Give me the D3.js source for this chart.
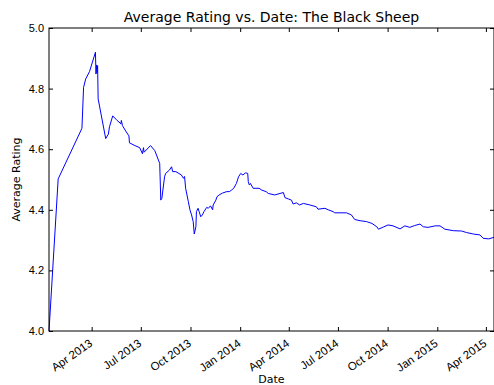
<!DOCTYPE html>
<html>
<head>
<meta charset="utf-8">
<script src="https://cdn.jsdelivr.net/npm/d3@7"></script>
<style>
  html, body { margin: 0; padding: 0; background: #fff; }
  svg { display: block; font-family: "DejaVu Sans", sans-serif; }
</style>
</head>
<body>
<svg id="chart" width="494" height="385"></svg>
<script>
const dates = [
  "2013-01-12","2013-01-29","2013-03-14","2013-03-17","2013-03-21","2013-03-28",
  "2013-04-08","2013-04-09","2013-04-10","2013-04-11","2013-04-12","2013-04-13",
  "2013-04-27","2013-05-02","2013-05-04","2013-05-10","2013-05-18","2013-05-24",
  "2013-05-25","2013-05-26","2013-05-28","2013-06-03","2013-06-09","2013-06-10",
  "2013-06-20","2013-06-29","2013-07-04","2013-07-06","2013-07-07","2013-07-19",
  "2013-07-27","2013-08-05","2013-08-07","2013-08-09","2013-08-14","2013-08-16",
  "2013-08-23","2013-08-27","2013-08-29","2013-09-04","2013-09-14","2013-09-18",
  "2013-09-20","2013-09-22","2013-09-27","2013-09-30","2013-10-03","2013-10-06",
  "2013-10-08","2013-10-11","2013-10-12","2013-10-15","2013-10-17","2013-10-20",
  "2013-10-23","2013-10-26","2013-10-31","2013-11-03","2013-11-07","2013-11-11",
  "2013-11-12","2013-11-17","2013-11-19","2013-11-23","2013-11-29","2013-12-07",
  "2013-12-12","2013-12-16","2013-12-20","2013-12-25","2013-12-29","2014-01-02",
  "2014-01-06","2014-01-11","2014-01-15","2014-01-16","2014-01-18","2014-01-20",
  "2014-01-25","2014-02-05","2014-02-10","2014-02-18","2014-02-22","2014-03-06",
  "2014-03-22","2014-03-25","2014-03-31","2014-04-06","2014-04-09","2014-04-15",
  "2014-04-21","2014-04-28","2014-05-10","2014-05-22","2014-05-25","2014-06-07",
  "2014-06-13","2014-06-22","2014-06-25","2014-07-17","2014-07-26","2014-08-01",
  "2014-08-11","2014-08-23","2014-09-02","2014-09-11","2014-09-14","2014-09-23",
  "2014-10-02","2014-10-11","2014-10-24","2014-11-02","2014-11-11","2014-11-20",
  "2014-11-30","2014-12-06","2014-12-15","2014-12-28","2015-01-06","2015-01-15",
  "2015-01-31","2015-02-15","2015-02-24","2015-03-09","2015-03-21","2015-03-27",
  "2015-04-06","2015-04-16"
];
const ratings = [
  4.000,4.502,4.669,4.804,4.832,4.856,
  4.920,4.848,4.878,4.852,4.876,4.766,
  4.635,4.650,4.674,4.710,4.695,4.686,
  4.683,4.695,4.678,4.660,4.644,4.621,
  4.612,4.605,4.585,4.605,4.590,4.612,
  4.595,4.553,4.432,4.438,4.509,4.520,
  4.531,4.542,4.526,4.526,4.515,4.504,
  4.510,4.471,4.427,4.400,4.383,4.361,
  4.320,4.344,4.394,4.405,4.394,4.377,
  4.383,4.394,4.408,4.405,4.413,4.400,
  4.416,4.432,4.443,4.449,4.455,4.460,
  4.460,4.465,4.471,4.487,4.509,4.520,
  4.515,4.522,4.520,4.493,4.482,4.487,
  4.471,4.471,4.465,4.460,4.454,4.449,
  4.457,4.440,4.436,4.432,4.419,4.423,
  4.416,4.421,4.416,4.410,4.402,4.405,
  4.400,4.394,4.390,4.390,4.383,4.368,
  4.364,4.361,4.355,4.344,4.336,4.343,
  4.350,4.347,4.337,4.347,4.342,4.348,
  4.353,4.344,4.342,4.347,4.347,4.336,
  4.331,4.330,4.325,4.320,4.317,4.306,
  4.304,4.309
];
const yTicks = [4.0, 4.2, 4.4, 4.6, 4.8, 5.0];
const xTickLabels = ["Apr 2013","Jul 2013","Oct 2013","Jan 2014","Apr 2014","Jul 2014","Oct 2014","Jan 2015","Apr 2015"];
const titleText = "Average Rating vs. Date: The Black Sheep";
const xLabelText = "Date";
const yLabelText = "Average Rating";

const parse = d3.timeParse("%Y-%m-%d");
const fmtTick = d3.timeFormat("%b %Y");
const data = dates.map((d, i) => ({ date: parse(d), value: ratings[i] }));
const xTickDates = xTickLabels.map(s => d3.timeParse("%b %Y")(s));

const L = 49, R = 494, T = 28, B = 331;
const svg = d3.select("#chart");

const x = d3.scaleTime().domain(d3.extent(data, d => d.date)).range([L, R]);
const y = d3.scaleLinear().domain([4.0, 5.0]).range([B, T]);

// line
svg.append("path")
  .datum(data)
  .attr("fill", "none")
  .attr("stroke", "#0000ff")
  .attr("stroke-width", 1)
  .attr("stroke-linejoin", "round")
  .attr("d", d3.line().x(d => x(d.date)).y(d => y(d.value)));

// frame
svg.append("rect")
  .attr("x", L).attr("y", T)
  .attr("width", R - L).attr("height", B - T)
  .attr("fill", "none").attr("stroke", "#000").attr("stroke-width", 1);

// bottom axis (ticks inside)
const xAxis = d3.axisBottom(x).tickValues(xTickDates).tickFormat(fmtTick).tickSize(-4).tickPadding(6);
const gx = svg.append("g").attr("transform", `translate(0,${B})`).call(xAxis);
gx.select(".domain").remove();
gx.selectAll(".tick line").attr("stroke", "#000");
gx.selectAll(".tick text").remove();
gx.selectAll(".tick").append("text")
  .attr("font-size", 11.5)
  .attr("fill", "#000")
  .attr("text-anchor", "end")
  .attr("x", 0).attr("y", 0)
  .attr("transform", "translate(1,14) rotate(-35)")
  .text(d => fmtTick(d));

// top axis ticks
const xAxisTop = d3.axisTop(x).tickValues(xTickDates).tickFormat("").tickSize(-4);
const gxt = svg.append("g").attr("transform", `translate(0,${T})`).call(xAxisTop);
gxt.select(".domain").remove();
gxt.selectAll(".tick line").attr("stroke", "#000");

// left axis
const yAxis = d3.axisLeft(y).tickValues(yTicks).tickFormat(d3.format(".1f")).tickSize(-4).tickPadding(5);
const gy = svg.append("g").attr("transform", `translate(${L},0)`).call(yAxis);
gy.select(".domain").remove();
gy.selectAll(".tick line").attr("stroke", "#000");
gy.selectAll(".tick text").attr("font-size", 11).attr("fill", "#000");

// right axis ticks
const yAxisR = d3.axisRight(y).tickValues(yTicks).tickFormat("").tickSize(-4);
const gyr = svg.append("g").attr("transform", `translate(${R},0)`).call(yAxisR);
gyr.select(".domain").remove();
gyr.selectAll(".tick line").attr("stroke", "#000");

// title
svg.append("text")
  .attr("x", (L + R) / 2).attr("y", 22)
  .attr("text-anchor", "middle")
  .attr("font-size", 14)
  .attr("fill", "#000")
  .text(titleText);

// x label
svg.append("text")
  .attr("x", (L + R) / 2).attr("y", 383)
  .attr("text-anchor", "middle")
  .attr("font-size", 11)
  .attr("fill", "#000")
  .text(xLabelText);

// y label
svg.append("text")
  .attr("transform", `translate(20,${(T + B) / 2}) rotate(-90)`)
  .attr("text-anchor", "middle")
  .attr("font-size", 11)
  .attr("fill", "#000")
  .text(yLabelText);
</script>
</body>
</html>
